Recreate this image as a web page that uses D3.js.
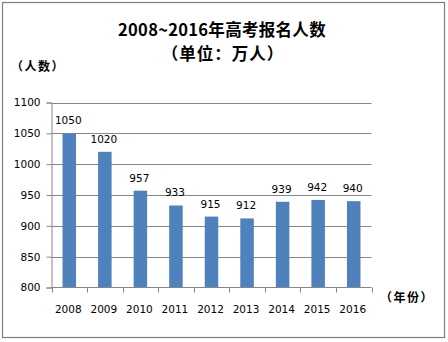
<!DOCTYPE html>
<html>
<head>
<meta charset="utf-8">
<script src="https://cdn.jsdelivr.net/npm/d3@7"></script>
<style>
  html, body { margin: 0; padding: 0; background: #fff; }
  svg { display: block; }
</style>
</head>
<body>
<svg id="chart" width="448" height="342"></svg>
<script>
// Gaokao registrations per year, in units of 10,000 people
const years = ["2008", "2009", "2010", "2011", "2012", "2013", "2014", "2015", "2016"];
const applicants = [1050, 1020, 957, 933, 915, 912, 939, 942, 940];
const yTicks = [800, 850, 900, 950, 1000, 1050, 1100];
const titleLines = ["2008~2016年高考报名人数", "（单位：万人）"];
const yAxisTitle = "（人数）";
const xAxisTitle = "（年份）";

const W = 448, H = 342;
const plot = { left: 51.5, right: 371.5, top: 102.5, bottom: 287.5 };
const barColor = "#4F81BD";
const lineColor = "#868686";
const numFont = "'DejaVu Sans', sans-serif";
const cjkFont = "'Noto Sans CJK SC', sans-serif";

const svg = d3.select("#chart");

// chart frame
svg.append("rect")
  .attr("x", 2.5).attr("y", 2.5)
  .attr("width", 442).attr("height", 335)
  .attr("fill", "#fff")
  .attr("stroke", "#7f7f7f")
  .attr("stroke-width", 1.2);

const x = d3.scaleBand()
  .domain(years)
  .range([plot.left, plot.right])
  .paddingInner(0.62)
  .paddingOuter(0.31);

const y = d3.scaleLinear()
  .domain([800, 1100])
  .range([plot.bottom, plot.top]);

// horizontal gridlines
svg.append("g")
  .selectAll("line")
  .data(yTicks.filter(d => d > 800))
  .join("line")
  .attr("x1", plot.left).attr("x2", plot.right)
  .attr("y1", d => Math.round(y(d)) + 0.5)
  .attr("y2", d => Math.round(y(d)) + 0.5)
  .attr("stroke", lineColor)
  .attr("stroke-width", 1);

// y axis
const yAxis = svg.append("g")
  .attr("transform", `translate(${plot.left},0)`)
  .call(d3.axisLeft(y).tickValues(yTicks).tickSize(5).tickPadding(6).tickFormat(d3.format("d")));
yAxis.select(".domain").attr("stroke", lineColor);
yAxis.selectAll(".tick line").attr("stroke", lineColor);
yAxis.selectAll(".tick text")
  .attr("font-family", numFont).attr("font-size", 10.5).attr("fill", "#000");

// bars
svg.append("g")
  .selectAll("rect")
  .data(applicants)
  .join("rect")
  .attr("x", (d, i) => x(years[i]))
  .attr("width", x.bandwidth())
  .attr("y", d => y(d))
  .attr("height", d => y(800) - y(d))
  .attr("fill", barColor);

// x axis, ticks at category boundaries
const xAxisG = svg.append("g")
  .attr("transform", `translate(0,${plot.bottom})`);
xAxisG.append("line")
  .attr("x1", plot.left).attr("x2", plot.right)
  .attr("stroke", lineColor);
xAxisG.selectAll("line.tick")
  .data(d3.range(years.length + 1))
  .join("line")
  .attr("class", "tick")
  .attr("x1", i => Math.round(plot.left + i * (plot.right - plot.left) / years.length) + 0.5)
  .attr("x2", i => Math.round(plot.left + i * (plot.right - plot.left) / years.length) + 0.5)
  .attr("y1", 0).attr("y2", 5)
  .attr("stroke", lineColor);
xAxisG.selectAll("text")
  .data(years)
  .join("text")
  .attr("x", d => x(d) + x.bandwidth() / 2 - 1)
  .attr("y", 25.5)
  .attr("text-anchor", "middle")
  .attr("font-family", numFont).attr("font-size", 10.5)
  .text(d => d);

// value labels above bars
svg.append("g")
  .selectAll("text")
  .data(applicants)
  .join("text")
  .attr("x", (d, i) => x(years[i]) + x.bandwidth() / 2 - 1)
  .attr("y", d => y(d) - 9)
  .attr("text-anchor", "middle")
  .attr("font-family", numFont).attr("font-size", 10.5)
  .text(d => d);

// titles
svg.append("text")
  .attr("x", 222).attr("y", 36)
  .attr("text-anchor", "middle")
  .attr("font-family", cjkFont).attr("font-size", 16.5).attr("font-weight", "bold")
  .attr("letter-spacing", 0.3)
  .text(titleLines[0]);
svg.append("text")
  .attr("x", 223).attr("y", 59.5)
  .attr("text-anchor", "middle")
  .attr("font-family", cjkFont).attr("font-size", 16.5).attr("font-weight", "bold")
  .attr("letter-spacing", 1)
  .text(titleLines[1]);

svg.append("text")
  .attr("x", 11).attr("y", 71)
  .attr("font-family", cjkFont).attr("font-size", 12).attr("font-weight", "bold")
  .attr("letter-spacing", 1.5)
  .text(yAxisTitle);

svg.append("text")
  .attr("x", 380).attr("y", 302)
  .attr("font-family", cjkFont).attr("font-size", 12).attr("font-weight", "bold")
  .attr("letter-spacing", 1.5)
  .text(xAxisTitle);
</script>
</body>
</html>
